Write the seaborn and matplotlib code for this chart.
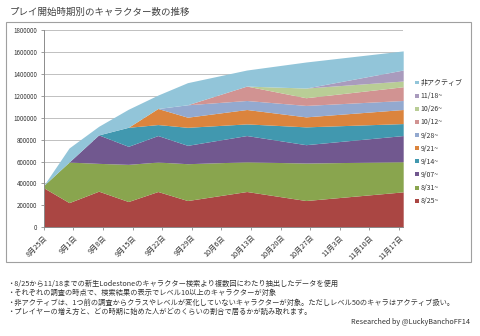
import matplotlib
matplotlib.use("Agg")
import matplotlib.pyplot as plt
from matplotlib.patches import Patch, Rectangle
import seaborn as sns
import pandas as pd

# ---- data ----
survey_dates = ["2013-08-25", "2013-08-31", "2013-09-07", "2013-09-14", "2013-09-21",
                "2013-09-28", "2013-10-12", "2013-10-26", "2013-11-18"]
series_names = ["8/25~", "8/31~", "9/07~", "9/14~", "9/21~", "9/28~",
                "10/12~", "10/26~", "11/18~", "非アクティブ"]
s_0825 = [361000, 226000, 330000, 236000, 327000, 245000, 327000, 245000, 324000]
s_0831 = [21000, 369000, 253000, 338000, 268000, 335000, 270000, 341000, 274000]
s_0907 = [0, 0, 259000, 164000, 241000, 167000, 239000, 167000, 238000]
s_0914 = [0, 0, 0, 173000, 100000, 164000, 106000, 162000, 109000]
s_0921 = [0, 0, 0, 0, 146000, 92000, 131000, 91000, 128000]
s_0928 = [0, 0, 0, 0, 0, 113000, 82000, 104000, 82000]
s_1012 = [0, 0, 0, 0, 0, 0, 131000, 70000, 125000]
s_1026 = [0, 0, 0, 0, 0, 0, 0, 88000, 52000]
s_1118 = [0, 0, 0, 0, 0, 0, 0, 0, 100000]
s_inactive = [0, 128000, 78000, 164000, 122000, 201000, 146000, 237000, 174000]

y_ticks = [0, 200000, 400000, 600000, 800000, 1000000, 1200000, 1400000, 1600000, 1800000]
title = "プレイ開始時期別のキャラクター数の推移"
notes = [
    "・8/25から11/18までの新生Lodestoneのキャラクター検索より複数回にわたり抽出したデータを使用",
    "・それぞれの調査の時点で、検索結果の表示でレベル10以上のキャラクターが対象",
    "・非アクティブは、1つ前の調査からクラスやレベルが変化していないキャラクターが対象。ただしレベル50のキャラはアクティブ扱い。",
    "・プレイヤーの増え方と、どの時期に始めた人がどのくらいの割合で居るかが読み取れます。",
]
credit = "Researched by @LuckyBanchoFF14"

colors = ["#AA4643", "#89A54E", "#71588F", "#4198AF", "#DB843D",
          "#93A9CF", "#D19392", "#B9CD96", "#A99BBD", "#92C5D9"]

# ---- figure ----
sns.set_theme(style="white")
plt.rcParams["font.family"] = ["Noto Sans CJK JP", "DejaVu Sans"]

fig = plt.figure(figsize=(4.8, 3.36), dpi=100)
ax = fig.add_axes([0.091, 0.323, 0.749, 0.589])

x = pd.to_datetime(survey_dates)
data = [s_0825, s_0831, s_0907, s_0914, s_0921, s_0928, s_1012, s_1026, s_1118, s_inactive]
ax.stackplot(x, *data, colors=colors, labels=series_names, linewidth=0, zorder=2)

ax.set_ylim(0, 1800000)
ax.set_yticks(y_ticks)
ax.set_yticklabels([str(v) for v in y_ticks], fontsize=4.5, color="#333333")
ax.yaxis.grid(True, color="#B5B5B5", linewidth=0.6, zorder=1)
ax.set_axisbelow(True)

ax.set_xlim(pd.Timestamp("2013-08-25"), pd.Timestamp("2013-11-18"))
xt = pd.date_range("2013-08-25", "2013-11-17", freq="7D")
ax.set_xticks(xt)
ax.set_xticklabels([f"{d.month}月{d.day}日" for d in xt], rotation=45, ha="right",
                   rotation_mode="anchor", fontsize=5.2, color="#333333")

for s in ["top", "right"]:
    ax.spines[s].set_visible(False)
for s in ["left", "bottom"]:
    ax.spines[s].set_color("#8C8C8C")
    ax.spines[s].set_linewidth(0.7)
ax.tick_params(axis="both", which="both", length=2.5, width=0.6, color="#8C8C8C",
               pad=2, left=True, bottom=True)

handles = [Patch(facecolor=c, edgecolor="none") for c in colors]
leg = fig.legend(handles[::-1], series_names[::-1], loc="upper left",
                 bbox_to_anchor=(0.865, 0.765), frameon=False, fontsize=5.0,
                 handlelength=0.5, handleheight=0.5, handletextpad=0.3,
                 labelspacing=0.74, borderaxespad=0, borderpad=0)
for t in leg.get_texts():
    t.set_color("#333333")

# outer frame
fig.patches.append(Rectangle((0.0125, 0.22), 0.968, 0.714, transform=fig.transFigure,
                             fill=False, edgecolor="#A0A0A0", linewidth=0.8))

fig.text(0.02, 0.964, title, fontsize=6.8, color="#404040", va="center", ha="left")

for i, line in enumerate(notes):
    fig.text(0.014, 1 - (284 + i * 9.3) / 336, line, fontsize=5.2, color="#333333",
             va="center", ha="left")
fig.text(0.979, 1 - 322 / 336, credit, fontsize=5.2, color="#333333",
         va="center", ha="right")

fig.savefig("out.png", dpi=100)
